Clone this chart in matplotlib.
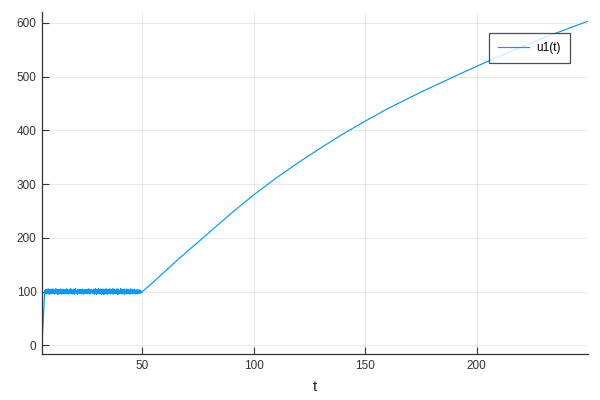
import numpy as np
import matplotlib
matplotlib.use("Agg")
import matplotlib.pyplot as plt

plt.rcParams['font.family'] = ['Liberation Sans', 'DejaVu Sans']

# start-up segment
t_start = [5.0, 6.2]
u_start = [0.0, 100.0]

# noisy plateau (t from ~6 to ~49.6), read as a dense band about 94..106
noise_a = [101.8, 97.2, 103.5, 98.9, 95.6, 104.1, 99.3, 102.7, 96.4, 100.9, 105.2, 97.8, 101.1, 94.9, 103.8,
           99.7, 96.9, 104.6, 98.2, 102.3, 95.8, 100.4, 105.0, 97.1, 103.1, 99.0, 96.2, 104.9, 98.6, 101.7,
           95.3, 102.9, 100.1, 97.5, 105.4, 99.6, 96.7, 103.3, 98.0, 101.4, 94.8, 104.3, 100.7, 97.9, 102.1,
           95.9, 103.9, 99.2, 96.5, 105.1, 98.4, 101.9, 95.4, 102.6, 100.3, 97.3, 104.7, 99.8, 96.1, 103.0,
           98.7, 101.2, 95.7, 104.4, 100.0, 97.6, 102.8, 96.0, 105.3, 99.4, 98.1, 103.6, 95.5, 101.6, 100.8,
           97.0, 104.0, 98.8, 102.4, 96.3, 105.5, 99.1, 97.7, 103.2, 95.2, 101.3, 100.5, 96.8, 104.8, 98.5,
           102.0, 95.1, 103.7, 99.9, 97.4, 105.6, 98.3, 101.5, 96.6, 102.5, 100.2, 95.0, 104.2, 99.5, 97.2,
           103.4, 98.9, 101.0, 96.0, 104.5, 100.6, 97.8, 102.2, 95.6, 103.9, 99.3, 96.9, 105.0, 98.1, 101.8,
           95.3, 102.7, 100.4, 97.0, 104.1, 99.0, 96.4, 103.0, 98.6, 101.4, 95.8, 104.6, 100.0, 97.5, 102.9,
           96.2, 105.2, 99.7, 98.2, 103.5, 95.4, 101.1, 100.9, 97.9, 104.3, 98.4, 102.1, 96.7, 103.2, 99.4]
noise_b = [96.1, 104.8, 99.5, 102.0, 95.2, 103.6, 98.3, 105.7, 97.0, 101.3, 94.7, 104.0, 100.2, 96.8, 103.1,
           98.5, 105.4, 95.9, 102.4, 99.1, 96.3, 104.9, 100.6, 97.4, 103.8, 95.1, 101.9, 98.0, 105.1, 96.6,
           102.8, 99.9, 94.9, 104.4, 97.7, 101.0, 95.5, 103.3, 100.8, 96.9, 105.3, 98.7, 102.2, 95.0, 104.1,
           99.2, 97.1, 103.7, 96.4, 101.6, 105.0, 98.2, 100.3, 95.7, 104.6, 97.9, 102.6, 99.6, 96.0, 103.9,
           98.8, 105.5, 95.3, 101.2, 100.0, 97.3, 104.3, 96.5, 102.9, 99.4, 95.8, 103.4, 98.1, 105.2, 97.6,
           101.8, 94.8, 104.7, 100.5, 96.2, 102.3, 99.0, 95.6, 103.0, 98.4, 105.6, 97.2, 101.5, 100.9, 95.4,
           104.2, 98.9, 102.7, 96.7, 103.5, 99.8, 95.1, 104.9, 97.8, 101.1, 100.4, 96.1, 103.2, 98.6, 105.0,
           95.9, 102.1, 99.3, 97.5, 104.5, 96.3, 101.7, 100.1, 95.2, 103.8, 98.0, 105.4, 97.0, 102.5, 99.7,
           96.8, 104.0, 95.7, 101.4, 100.7, 97.4, 103.6, 98.3, 104.8, 96.4, 102.0, 99.1, 95.5, 103.1, 98.7,
           101.9, 96.9, 104.4, 100.3, 97.1, 102.8, 95.8, 101.2, 98.5, 103.4, 99.0, 97.3, 101.6, 98.1, 97.6]
noise_vals = noise_a + noise_b
t_noise = np.linspace(6.3, 49.6, len(noise_vals))

# smooth growth segment
t_growth = [50, 55, 60, 65, 70, 75, 80, 90, 100, 110, 120, 130, 140, 150, 160, 175, 190, 200, 215, 230, 250]
u_growth = [100, 118, 137, 156, 174, 192, 210, 246, 280, 311, 340, 367, 393, 417, 440, 471, 500, 519, 546, 572, 603]

x_ticks = [50, 100, 150, 200]
y_ticks = [0, 100, 200, 300, 400, 500, 600]

t_all = np.concatenate([t_start, t_noise, t_growth])
u_all = np.concatenate([u_start, noise_vals, u_growth])

fig = plt.figure(figsize=(6, 4), dpi=100)
ax = fig.add_axes([0.07, 0.115, 0.91, 0.855])
ax.plot(t_all, u_all, color='#009AFA', lw=0.85, label='u1(t)')

ax.set_xlim(5, 250)
ax.set_ylim(-16, 620)
ax.set_xticks(x_ticks)
ax.set_yticks(y_ticks)
ax.grid(True, color='#000000', alpha=0.1, lw=0.6)
ax.set_axisbelow(True)
for s in ['top', 'right']:
    ax.spines[s].set_visible(False)
for s in ['left', 'bottom']:
    ax.spines[s].set_color('#333333')
    ax.spines[s].set_linewidth(0.9)
ax.tick_params(direction='in', length=5, width=0.8, colors='#333333', labelsize=8.5, pad=4)
ax.set_xlabel('t', fontsize=11, color='#222222', labelpad=6)

leg = ax.legend(loc='upper right', bbox_to_anchor=(0.967, 0.94), fontsize=8.5, frameon=True,
                fancybox=False, edgecolor='#222222', handlelength=2.6, handletextpad=0.6,
                borderpad=0.8, borderaxespad=0)
leg.get_frame().set_linewidth(0.9)

fig.savefig('out.png', dpi=100)
